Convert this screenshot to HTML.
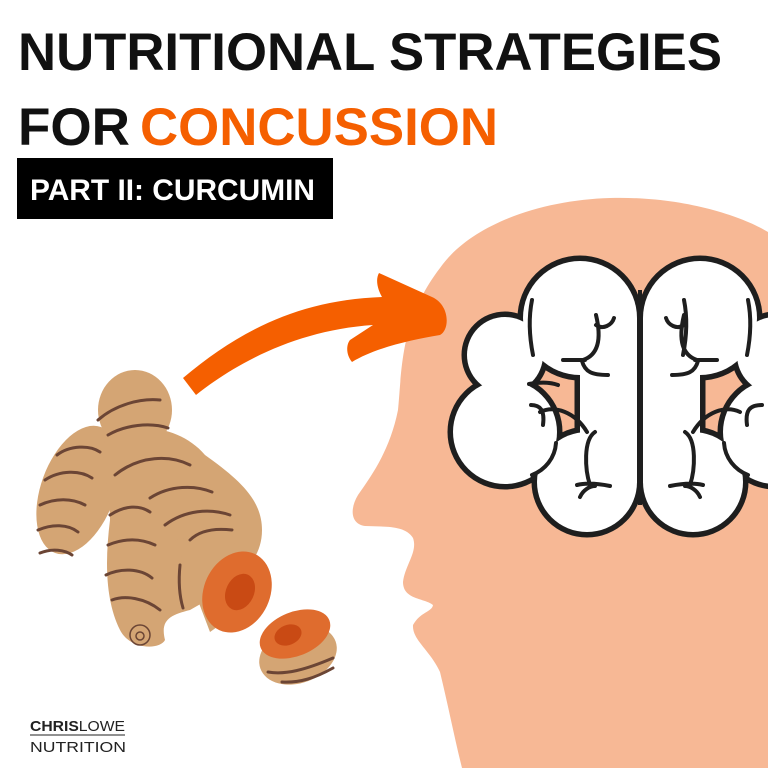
<!DOCTYPE html>
<html><head><meta charset="utf-8"><style>
html,body{margin:0;padding:0;background:#fff;}
svg{display:block;}
</style></head><body>
<svg width="768" height="768" viewBox="0 0 768 768" xmlns="http://www.w3.org/2000/svg">
<rect width="768" height="768" fill="#fff"/>
<!-- head -->
<path d="M440,268 C470,225 540,200 610,198 C680,196 740,215 768,232 L768,768 L462,768 C455,740 448,705 440,672 C430,650 412,640 413,625 C420,612 432,612 433,605 C425,598 403,600 403,582 C405,565 418,552 413,538 C405,525 385,527 365,526 C350,524 350,508 358,495 C372,475 390,450 398,410 C402,370 400,320 440,268 Z" fill="#f7b895"/>
<!-- brain outlines: black layer -->
<g fill="#1e1e1e" stroke="#1e1e1e" stroke-width="11">
<circle cx="580" cy="318" r="57"/><rect x="580" y="318" width="57" height="165"/>
<circle cx="505" cy="355" r="38"/><circle cx="505" cy="432" r="52"/><circle cx="587" cy="482" r="50"/>
<circle cx="700" cy="318" r="57"/><rect x="643" y="318" width="57" height="165"/>
<circle cx="775" cy="355" r="38"/><circle cx="775" cy="432" r="52"/><circle cx="693" cy="482" r="50"/>
</g>
<g fill="#fff">
<circle cx="580" cy="318" r="57"/><rect x="580" y="318" width="57" height="165"/>
<circle cx="505" cy="355" r="38"/><circle cx="505" cy="432" r="52"/><circle cx="587" cy="482" r="50"/>
<circle cx="700" cy="318" r="57"/><rect x="643" y="318" width="57" height="165"/>
<circle cx="775" cy="355" r="38"/><circle cx="775" cy="432" r="52"/><circle cx="693" cy="482" r="50"/>
</g>
<line x1="640" y1="290" x2="640" y2="505" stroke="#1e1e1e" stroke-width="4"/>
<g fill="none" stroke="#1e1e1e" stroke-width="4" stroke-linecap="round">
<path d="M532,300 C528,320 530,340 533,355"/>
<path d="M596,315 C602,340 598,355 583,360 M563,360 L585,360 M596,325 C603,330 612,325 614,318 M582,361 C585,372 592,375 608,375"/>
<path d="M529,384 C540,382 550,382 558,385"/>
<path d="M531,405 C540,405 545,410 543,425 M540,412 C555,405 575,412 587,432 M556,443 C555,458 545,470 532,475"/>
<path d="M595,432 C583,440 585,470 590,485 M577,485 C585,483 595,483 610,486 M580,497 C583,490 590,486 595,486"/>
<path d="M684,300 C688,320 686,340 683,355 M684,315 C678,340 682,355 697,360 M717,360 L695,360 M684,325 C677,330 668,325 666,318 M698,361 C695,372 688,375 672,375"/>
<path d="M762,405 C750,405 745,410 747,425 M740,412 C725,405 705,412 693,432 M724,443 C725,458 735,470 748,475"/>
<path d="M685,432 C697,440 695,470 690,485 M703,485 C695,483 685,483 670,486 M700,497 C697,490 690,486 685,486"/>
<path d="M748,300 C752,320 750,340 747,355"/>
</g>
<!-- arrow -->
<path d="M183,378 C240,330 300,300 382,297 C378,290 375,280 379,273 L432,297 C450,305 450,330 440,335 C410,340 375,348 352,362 C346,355 346,345 350,340 L373,325 C300,330 240,360 196,395 Z" fill="#f55f00"/>
<!-- turmeric -->
<g fill="#d4a574">
<ellipse cx="78" cy="490" rx="37" ry="67" transform="rotate(20 78 490)"/>
<ellipse cx="135" cy="410" rx="37" ry="40"/>
<path d="M105,440 C130,420 180,425 205,455 C240,480 262,500 262,530 C262,560 240,575 225,590 L190,610 C170,615 160,620 165,640 C160,650 130,650 120,630 C105,600 105,560 110,520 C110,490 100,460 105,440 Z"/>
<path d="M175,540 L230,530 L255,600 L210,632 Z"/>
<ellipse cx="298" cy="655" rx="40" ry="28" transform="rotate(-20 298 655)"/>
</g>
<ellipse cx="237" cy="592" rx="33" ry="42" transform="rotate(25 237 592)" fill="#df6c2e"/>
<ellipse cx="240" cy="592" rx="14" ry="19" transform="rotate(25 240 592)" fill="#c94a14"/>
<ellipse cx="295" cy="634" rx="37" ry="22" transform="rotate(-22 295 634)" fill="#df6c2e"/>
<ellipse cx="288" cy="635" rx="14" ry="10" transform="rotate(-22 288 635)" fill="#c94a14"/>
<g fill="none" stroke="#6b4535" stroke-width="3" stroke-linecap="round">
<path d="M98,420 C115,405 140,398 160,400 M108,435 C125,425 150,422 168,428"/>
<path d="M57,455 C70,445 90,445 100,452 M45,480 C60,470 80,470 92,478 M40,505 C55,498 72,498 85,505 M38,530 C52,524 68,524 78,532 M40,553 C52,548 65,550 72,555"/>
<path d="M115,475 C140,455 170,455 190,465 M150,498 C170,485 195,485 212,492 M165,525 C185,510 210,508 230,515 M110,515 C125,505 140,505 150,512 M108,545 C125,538 140,538 155,545 M106,575 C120,568 140,568 152,578 M112,600 C125,595 145,598 160,610"/>
<path d="M180,565 C178,585 180,598 183,608 M190,540 C200,530 215,528 232,530"/>
<path d="M268,672 C285,675 305,670 333,658 M282,682 C300,683 315,678 333,668"/>
<circle cx="140" cy="635" r="10" stroke-width="1.5"/><circle cx="140" cy="636" r="4" stroke-width="1.5"/>
</g>
<!-- text -->
<g font-family="'Liberation Sans', sans-serif" font-weight="bold">
<text x="18" y="70" font-size="53" fill="#111" textLength="704" lengthAdjust="spacingAndGlyphs">NUTRITIONAL STRATEGIES</text>
<text x="18" y="145" font-size="53" fill="#111" textLength="112" lengthAdjust="spacingAndGlyphs">FOR</text>
<text x="140" y="145" font-size="53" fill="#f55f00" textLength="358" lengthAdjust="spacingAndGlyphs">CONCUSSION</text>
</g>
<rect x="17" y="158" width="316" height="61" fill="#000"/>
<text x="30" y="200" font-family="'Liberation Sans', sans-serif" font-weight="bold" font-size="30" fill="#fff" textLength="285" lengthAdjust="spacingAndGlyphs">PART II: CURCUMIN</text>
<!-- logo -->
<text x="30" y="731" font-family="'Liberation Sans', sans-serif" font-size="15" fill="#222" textLength="95" lengthAdjust="spacingAndGlyphs"><tspan font-weight="bold">CHRIS</tspan>LOWE</text>
<line x1="30" y1="735" x2="125" y2="735" stroke="#222" stroke-width="1"/>
<text x="30" y="752" font-family="'Liberation Sans', sans-serif" font-size="15" fill="#222" textLength="96" lengthAdjust="spacingAndGlyphs">NUTRITION</text>
</svg>
</body></html>
